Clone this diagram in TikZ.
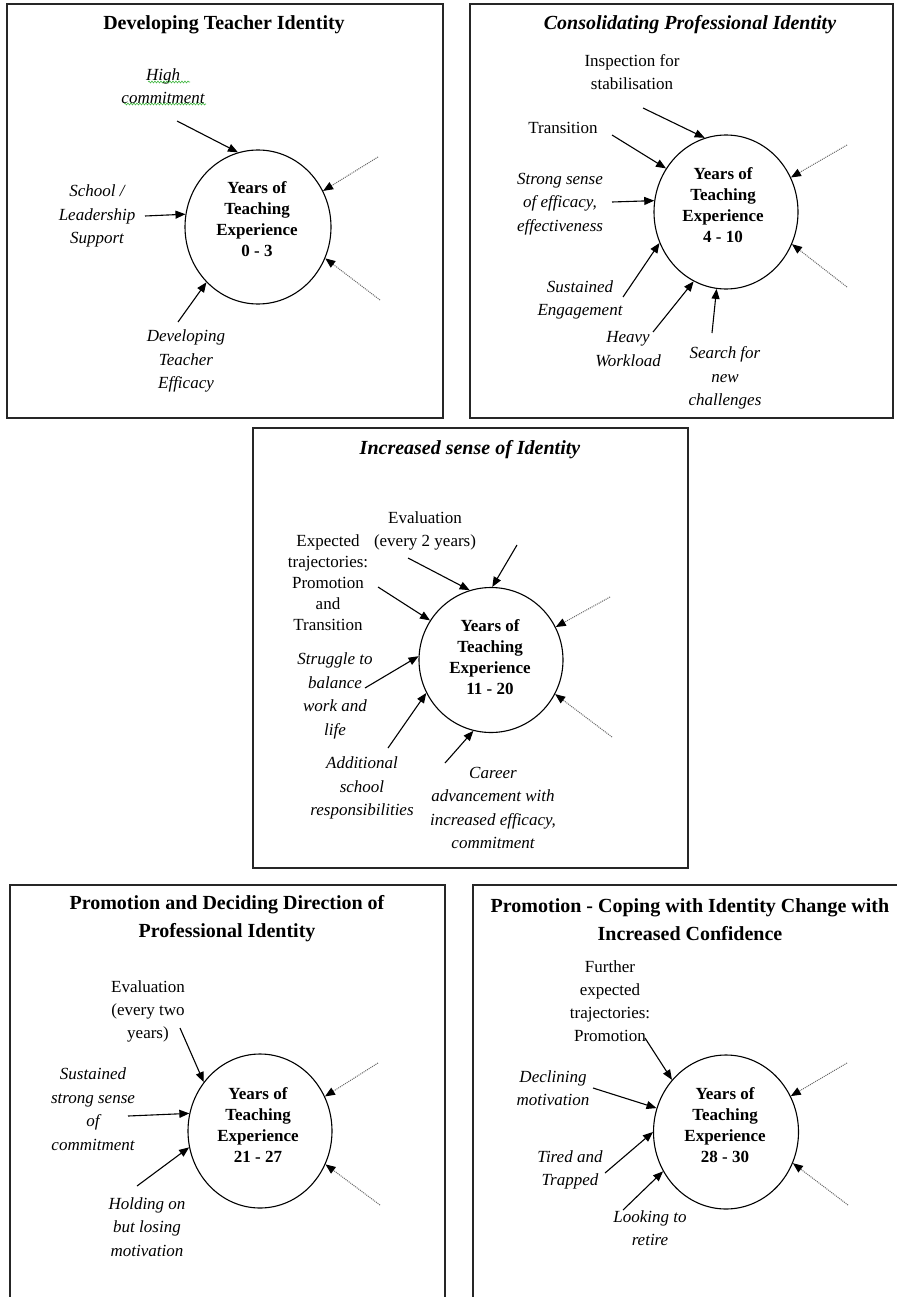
\documentclass[tikz,border=0pt]{standalone}
\usepackage{fontspec}
\setmainfont{Liberation Serif}
\usetikzlibrary{arrows.meta,shapes.geometric,decorations.pathmorphing}
\begin{document}
\begin{tikzpicture}[x=1pt,y=-1pt,
  panel/.style={line width=1.3pt, draw=black!85},
  yrs/.style={ellipse, draw, line width=1.1pt, inner sep=0pt},
  yrstext/.style={align=center, inner sep=0pt, font=\fontsize{17}{21}\selectfont\bfseries},
  lab/.style={align=center, inner sep=0pt, font=\fontsize{17}{23}\selectfont},
  ilab/.style={align=center, inner sep=0pt, font=\fontsize{17}{23.5}\selectfont\itshape},
  ttl/.style={align=center, inner sep=0pt, font=\fontsize{20}{28}\selectfont\bfseries},
  ittl/.style={align=center, inner sep=0pt, font=\fontsize{20}{28}\selectfont\bfseries\itshape},
  arr/.style={line width=1.1pt, -{Triangle[length=10pt,width=8pt]}},
  dotarr/.style={draw=black!60, densely dotted, line width=1pt, -{Triangle[length=10pt,width=8pt,color=black]}},
  squig/.style={draw=green!45!gray, line width=0.6pt, decorate, decoration={snake, amplitude=1pt, segment length=3pt}}
]
\useasboundingbox[fill=white] (0,0) rectangle (896,1297);

% ---------- Panel 1 ----------
\draw[panel] (7,4) rectangle (443,418);
\node[ttl] (t1) at (224,25) {Developing Teacher Identity};
\node[yrs, minimum width=146pt, minimum height=154pt] (c1) at (258,227) {};
\node[yrstext] (y1) at (257,219) {Years of\\Teaching\\Experience\\0 - 3};
\node[ilab] (l11) at (163,86) {High\\commitment};
\draw[squig] (148,82) -- (190,82);
\draw[squig] (124,104) -- (206,104);
\node[ilab] (l12) at (97,216) {School /\\Leadership\\Support};
\node[ilab] (l13) at (186,361) {Developing\\Teacher\\Efficacy};
\coordinate (s11) at (177,121);
\coordinate (s12) at (145,216);
\coordinate (s13) at (178,322);
\coordinate (d11) at (378,157);
\coordinate (d12) at (380,300);
\draw[arr] (s11) -- (c1.105.5);
\draw[arr] (s12) -- (c1.170);
\draw[arr] (s13) -- (c1.227);
\draw[dotarr] (d11) -- (c1.29);
\draw[dotarr] (d12) -- (c1.-25);

% ---------- Panel 2 ----------
\draw[panel] (470,4) rectangle (893,418);
\node[ittl] (t2) at (690,25) {Consolidating Professional Identity};
\node[yrs, minimum width=144pt, minimum height=154pt] (c2) at (726,212) {};
\node[yrstext] (y2) at (723,205) {Years of\\Teaching\\Experience\\4 - 10};
\node[lab] (l21) at (632,72) {Inspection for\\stabilisation};
\node[lab] (l22) at (563,128) {Transition};
\node[ilab] (l23) at (560,204) {Strong sense\\of efficacy,\\effectiveness};
\node[ilab] (l24) at (580,300) {Sustained\\Engagement};
\node[ilab] (l25) at (628,349) {Heavy\\Workload};
\node[ilab] (l26) at (725,378) {Search for\\new\\challenges};
\coordinate (s21) at (643,108);
\coordinate (s22) at (612,135);
\coordinate (s23) at (612,202);
\coordinate (s24) at (623,297);
\coordinate (s25) at (653,332);
\coordinate (s26) at (712,333);
\coordinate (d21) at (847,145);
\coordinate (d22) at (847,287);
\draw[arr] (s21) -- (c2.106);
\draw[arr] (s22) -- (c2.144);
\draw[arr] (s23) -- (c2.171);
\draw[arr] (s24) -- (c2.205);
\draw[arr] (s25) -- (c2.245);
\draw[arr] (s26) -- (c2.263);
\draw[dotarr] (d21) -- (c2.28);
\draw[dotarr] (d22) -- (c2.-26);

% ---------- Panel 3 ----------
\draw[panel] (253,428) rectangle (688,868);
\node[ittl] (t3) at (470,450) {Increased sense of Identity};
\node[yrs, minimum width=144pt, minimum height=145pt] (c3) at (491,660) {};
\node[yrstext] (y3) at (490,657) {Years of\\Teaching\\Experience\\11 - 20};
\node[lab] (l31) at (425,531) {Evaluation\\(every 2 years)};
\node[lab, font=\fontsize{17}{21}\selectfont] (l32) at (328,583) {Expected\\trajectories:\\Promotion\\and\\Transition};
\node[ilab] (l33) at (335,696) {Struggle to\\balance\\work and\\life};
\node[ilab] (l34) at (362,788) {Additional\\school\\responsibilities};
\node[ilab] (l35) at (493,808) {Career\\advancement with\\increased efficacy,\\commitment};
\coordinate (s31) at (408,558);
\coordinate (s3x) at (517,545);
\coordinate (s32) at (378,587);
\coordinate (s33) at (365,688);
\coordinate (s34) at (388,748);
\coordinate (s35) at (445,763);
\coordinate (d31) at (610,597);
\coordinate (d32) at (612,737);
\draw[arr] (s31) -- (c3.107);
\draw[arr] (s3x) -- (c3.89);
\draw[arr] (s32) -- (c3.147);
\draw[arr] (s33) -- (c3.177);
\draw[arr] (s34) -- (c3.207);
\draw[arr] (s35) -- (c3.256);
\draw[dotarr] (d31) -- (c3.27);
\draw[dotarr] (d32) -- (c3.-28);

% ---------- Panel 4 ----------
\draw[panel] (10,1300) -- (10,885) -- (445,885) -- (445,1300);
\node[ttl] (t4) at (227,919) {Promotion and Deciding Direction of\\Professional Identity};
\node[yrs, minimum width=144pt, minimum height=154pt] (c4) at (260,1131) {};
\node[yrstext] (y4) at (258,1125) {Years of\\Teaching\\Experience\\21 - 27};
\node[lab] (l41) at (148,1011) {Evaluation\\(every two\\years)};
\node[ilab] (l42) at (93,1109) {Sustained\\strong sense\\of\\commitment};
\node[ilab] (l43) at (147,1227) {Holding on\\but losing\\motivation};
\coordinate (s41) at (180,1028);
\coordinate (s42) at (128,1116);
\coordinate (s43) at (137,1186);
\coordinate (d41) at (378,1063);
\coordinate (d42) at (380,1205);
\draw[arr] (s41) -- (c4.139);
\draw[arr] (s42) -- (c4.166);
\draw[arr] (s43) -- (c4.193);
\draw[dotarr] (d41) -- (c4.28);
\draw[dotarr] (d42) -- (c4.-27);

% ---------- Panel 5 ----------
\draw[panel] (473,1300) -- (473,885) -- (900,885);
\node[ttl] (t5) at (690,920) {Promotion - Coping with Identity\ Change with\\Increased Confidence};
\node[yrs, minimum width=145pt, minimum height=154pt] (c5) at (726,1132) {};
\node[yrstext] (y5) at (725,1125) {Years of\\Teaching\\Experience\\28 - 30};
\node[lab] (l51) at (610,1001) {Further\\expected\\trajectories:\\Promotion};
\node[ilab] (l52) at (553,1088) {Declining\\motivation};
\node[ilab] (l53) at (570,1170) {Tired and\\Trapped};
\node[ilab] (l54) at (650,1228) {Looking to\\retire};
\coordinate (s51) at (645,1038);
\coordinate (s52) at (593,1088);
\coordinate (s53) at (605,1173);
\coordinate (s54) at (623,1210);
\coordinate (d51) at (847,1063);
\coordinate (d52) at (848,1205);
\draw[arr] (s51) -- (c5.136);
\draw[arr] (s52) -- (c5.161);
\draw[arr] (s53) -- (c5.180);
\draw[arr] (s54) -- (c5.212);
\draw[dotarr] (d51) -- (c5.29);
\draw[dotarr] (d52) -- (c5.-25);
\end{tikzpicture}
\end{document}
